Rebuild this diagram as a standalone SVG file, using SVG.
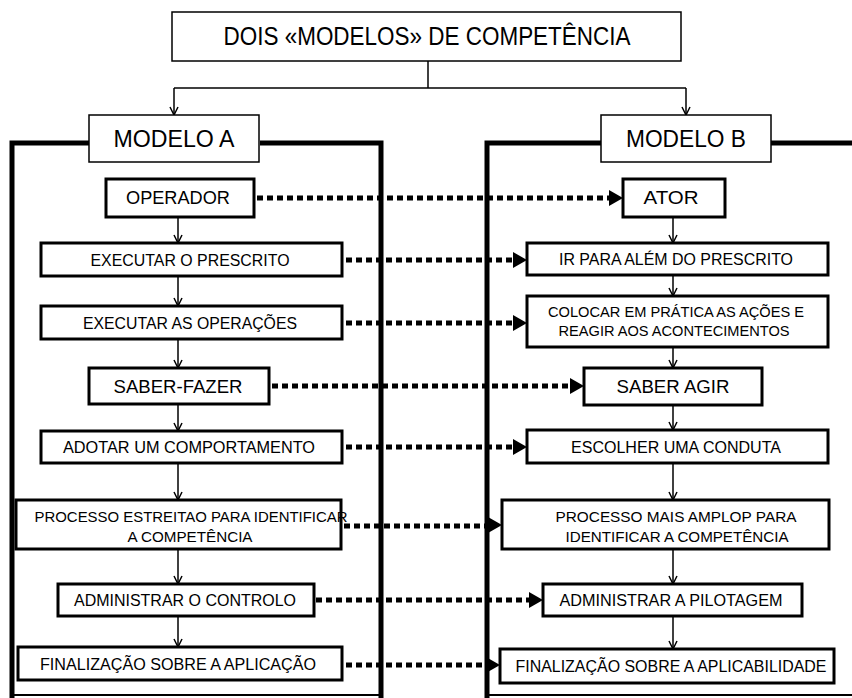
<svg xmlns="http://www.w3.org/2000/svg" width="852" height="698" viewBox="0 0 852 698">
<style>
.bg{fill:#fff}
.hd{fill:#fff;stroke:#000;stroke-width:1.5}
.nd{fill:#fff;stroke:#000;stroke-width:3}
.t{font-family:"Liberation Sans",Arial,sans-serif;fill:#000;text-anchor:middle}
.tn{font-family:"Liberation Sans Narrow","Liberation Sans",Arial,sans-serif;fill:#000;text-anchor:middle}
.frame{fill:none;stroke:#000;stroke-width:5}
.fbot{fill:none;stroke:#000;stroke-width:2}
.thin{fill:none;stroke:#000;stroke-width:1.5}
.dot{fill:none;stroke:#000;stroke-width:5;stroke-dasharray:6 4}
.head{fill:#000}
</style>
<defs>
<marker id="open" viewBox="0 0 10 10" refX="9" refY="5" markerWidth="10" markerHeight="10" markerUnits="userSpaceOnUse" orient="auto">
<path d="M1,1 L9,5 L1,9" fill="none" stroke="#000" stroke-width="1.5"/>
</marker>
</defs>
<rect class="bg" width="852" height="698"/>

<g id="frames">
<path class="frame" d="M90,143 H12 V698"/>
<path class="frame" d="M260,143 H381 V698"/>
<path class="fbot" d="M12,695 H381"/>
<path class="frame" d="M602,143 H487 V698"/>
<path class="fbot" d="M487,695 H852"/>
<path class="frame" d="M770,143 H852"/>
</g>

<g id="connectors">
<path class="thin" d="M428,61 V88"/>
<path class="thin" d="M174,88 H686"/>
<path class="thin" d="M174,88 V115" marker-end="url(#open)"/>
<path class="thin" d="M686,88 V115" marker-end="url(#open)"/>

<path class="thin" d="M178,217 V243" marker-end="url(#open)"/>
<path class="thin" d="M178,276 V306" marker-end="url(#open)"/>
<path class="thin" d="M178,339 V368" marker-end="url(#open)"/>
<path class="thin" d="M178,404 V431" marker-end="url(#open)"/>
<path class="thin" d="M178,463 V500" marker-end="url(#open)"/>
<path class="thin" d="M178,549 V584" marker-end="url(#open)"/>
<path class="thin" d="M178,616 V647" marker-end="url(#open)"/>

<path class="thin" d="M673,217 V243" marker-end="url(#open)"/>
<path class="thin" d="M673,275 V296" marker-end="url(#open)"/>
<path class="thin" d="M673,347 V368" marker-end="url(#open)"/>
<path class="thin" d="M673,405 V430" marker-end="url(#open)"/>
<path class="thin" d="M673,463 V500" marker-end="url(#open)"/>
<path class="thin" d="M673,549 V584" marker-end="url(#open)"/>
<path class="thin" d="M673,616 V649" marker-end="url(#open)"/>

<path class="dot" d="M257,198 H610"/>
<path class="head" d="M623,198 L609,190 L609,206 Z"/>
<path class="dot" d="M346,260 H514"/>
<path class="head" d="M527,260 L513,252 L513,268 Z"/>
<path class="dot" d="M346,323 H514"/>
<path class="head" d="M527,323 L513,315 L513,331 Z"/>
<path class="dot" d="M272,386 H571"/>
<path class="head" d="M584,386 L570,378 L570,394 Z"/>
<path class="dot" d="M346,447 H514"/>
<path class="head" d="M527,447 L513,439 L513,455 Z"/>
<path class="dot" d="M344,526 H489"/>
<path class="head" d="M502,525 L488,517 L488,533 Z"/>
<path class="dot" d="M316,600 H530"/>
<path class="head" d="M543,600 L529,592 L529,608 Z"/>
<path class="dot" d="M346,665 H487"/>
<path class="head" d="M500,665 L486,657 L486,673 Z"/>
</g>

<g id="title">
<rect class="hd" x="172" y="12" width="509" height="49"/>
<text class="tn" x="427" y="45" font-size="25" textLength="407" lengthAdjust="spacingAndGlyphs">DOIS «MODELOS» DE COMPETÊNCIA</text>
</g>
<g id="modeloA">
<rect class="hd" x="89" y="115" width="170" height="47"/>
<text class="tn" x="174" y="147" font-size="23" textLength="121" lengthAdjust="spacingAndGlyphs">MODELO A</text>
</g>
<g id="modeloB">
<rect class="hd" x="601" y="115" width="170" height="47"/>
<text class="tn" x="686" y="147" font-size="23" textLength="120" lengthAdjust="spacingAndGlyphs">MODELO B</text>
</g>

<g id="operador">
<rect class="nd" x="106" y="179" width="148" height="38"/>
<text class="t" x="178" y="204" font-size="19" textLength="104" lengthAdjust="spacingAndGlyphs">OPERADOR</text>
</g>
<g id="executar-prescrito">
<rect class="nd" x="41" y="243" width="301" height="33"/>
<text class="t" x="190" y="265.5" font-size="16" textLength="199" lengthAdjust="spacingAndGlyphs">EXECUTAR O PRESCRITO</text>
</g>
<g id="executar-operacoes">
<rect class="nd" x="41" y="306" width="301" height="33"/>
<text class="t" x="190" y="328.5" font-size="16" textLength="214" lengthAdjust="spacingAndGlyphs">EXECUTAR AS OPERAÇÕES</text>
</g>
<g id="saber-fazer">
<rect class="nd" x="89" y="368" width="180" height="36"/>
<text class="t" x="178" y="393" font-size="19" textLength="129" lengthAdjust="spacingAndGlyphs">SABER-FAZER</text>
</g>
<g id="adotar">
<rect class="nd" x="41" y="431" width="301" height="32"/>
<text class="t" x="189" y="452.5" font-size="16" textLength="252" lengthAdjust="spacingAndGlyphs">ADOTAR UM  COMPORTAMENTO</text>
</g>
<g id="processo-estreito">
<rect class="nd" x="16" y="500" width="325" height="49"/>
<text class="t" x="191" y="522" font-size="15.5" textLength="313" lengthAdjust="spacingAndGlyphs">PROCESSO ESTREITAO PARA IDENTIFICAR</text>
<text class="t" x="190" y="542" font-size="15.5" textLength="125" lengthAdjust="spacingAndGlyphs">A COMPETÊNCIA</text>
</g>
<g id="administrar-controlo">
<rect class="nd" x="58" y="584" width="256" height="32"/>
<text class="t" x="185" y="606" font-size="16" textLength="222" lengthAdjust="spacingAndGlyphs">ADMINISTRAR O CONTROLO</text>
</g>
<g id="finalizacao-aplicacao">
<rect class="nd" x="18" y="647" width="324" height="33"/>
<text class="t" x="178" y="669.5" font-size="16" textLength="276" lengthAdjust="spacingAndGlyphs">FINALIZAÇÃO SOBRE A APLICAÇÃO</text>
</g>

<g id="ator">
<rect class="nd" x="623" y="179" width="102" height="38"/>
<text class="t" x="671" y="204" font-size="19" textLength="55" lengthAdjust="spacingAndGlyphs">ATOR</text>
</g>
<g id="ir-alem">
<rect class="nd" x="527" y="243" width="301" height="32"/>
<text class="t" x="676" y="265" font-size="16" textLength="234" lengthAdjust="spacingAndGlyphs">IR PARA ALÉM DO PRESCRITO</text>
</g>
<g id="colocar-pratica">
<rect class="nd" x="527" y="296" width="301" height="51"/>
<text class="t" x="676" y="317" font-size="14.5" textLength="256" lengthAdjust="spacingAndGlyphs">COLOCAR  EM  PRÁTICA AS AÇÕES E</text>
<text class="t" x="674" y="336" font-size="14.5" textLength="231" lengthAdjust="spacingAndGlyphs">REAGIR AOS ACONTECIMENTOS</text>
</g>
<g id="saber-agir">
<rect class="nd" x="584" y="368" width="178" height="37"/>
<text class="t" x="673" y="393" font-size="19" textLength="113" lengthAdjust="spacingAndGlyphs">SABER AGIR</text>
</g>
<g id="escolher">
<rect class="nd" x="527" y="430" width="301" height="33"/>
<text class="t" x="676" y="452.5" font-size="16" textLength="210" lengthAdjust="spacingAndGlyphs">ESCOLHER UMA CONDUTA</text>
</g>
<g id="processo-amplo">
<rect class="nd" x="502" y="500" width="327" height="49"/>
<text class="t" x="676" y="522" font-size="15.5" textLength="241" lengthAdjust="spacingAndGlyphs">PROCESSO MAIS AMPLOP PARA</text>
<text class="t" x="677" y="542" font-size="15.5" textLength="223" lengthAdjust="spacingAndGlyphs">IDENTIFICAR A COMPETÊNCIA</text>
</g>
<g id="administrar-pilotagem">
<rect class="nd" x="543" y="584" width="259" height="32"/>
<text class="t" x="671" y="606" font-size="16" textLength="223" lengthAdjust="spacingAndGlyphs">ADMINISTRAR A  PILOTAGEM</text>
</g>
<g id="finalizacao-aplicabilidade">
<rect class="nd" x="500" y="649" width="334" height="34"/>
<text class="t" x="671" y="671.5" font-size="16" textLength="311" lengthAdjust="spacingAndGlyphs">FINALIZAÇÃO SOBRE A  APLICABILIDADE</text>
</g>
</svg>
